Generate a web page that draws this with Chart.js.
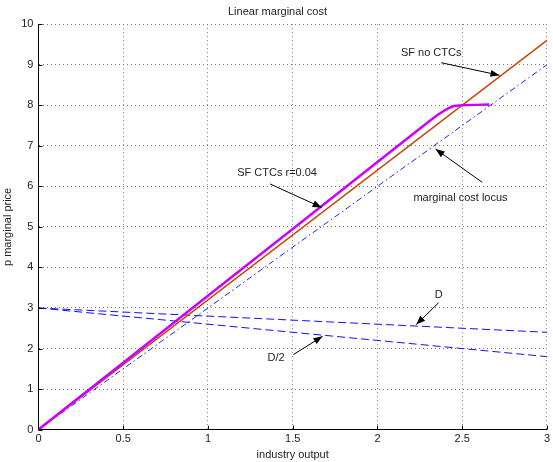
<!DOCTYPE html>
<html>
<head>
<meta charset="utf-8">
<script src="https://cdn.jsdelivr.net/npm/chart.js@4.4.1/dist/chart.umd.min.js"></script>
<style>
html,body{margin:0;padding:0;background:#fff;}
#wrap{width:553px;height:462px;}
</style>
</head>
<body>
<div id="wrap"><canvas id="c" width="553" height="462"></canvas></div>
<script>
// ---- data ----
const lineX = [0, 3];
const sfNoCTCs = [0, 9.6];
const mcLocus = [0, 9];
const demandD = [3, 2.4];
const demandHalf = [3, 1.8];
const sfCTCx = [0, 0.5, 1, 1.5, 2, 2.3, 2.35, 2.39, 2.42, 2.45, 2.5, 2.58, 2.66];
const sfCTCy = [0, 1.65, 3.3, 4.95, 6.6, 7.59, 7.75, 7.86, 7.93, 7.98, 8.0, 8.01, 8.02];
const xTicks = [0, 0.5, 1, 1.5, 2, 2.5, 3];
const xTickLabels = ['0', '0.5', '1', '1.5', '2', '2.5', '3'];
const yTicks = [0, 1, 2, 3, 4, 5, 6, 7, 8, 9, 10];
// annotations: label, text position, arrow start, arrow end (data units)
const noteLabels = ['SF no CTCs', 'marginal cost locus', 'SF CTCs r=0.04', 'D/2', 'D'];
const noteText = [[2.317, 9.29], [2.49, 5.725], [1.408, 6.34], [1.402, 1.757], [2.362, 3.32]];
const noteFrom = [[2.376, 9.05], [2.618, 6.10], [1.366, 6.06], [1.504, 1.85], [2.361, 3.13]];
const noteTo = [[2.72, 8.74], [2.343, 6.92], [1.671, 5.48], [1.676, 2.30], [2.229, 2.59]];

const pts = (xs, ys) => xs.map((x, i) => ({x: x, y: ys[i]}));

const FONT = "'Liberation Sans', Arial, Helvetica, sans-serif";

const notesPlugin = {
  id: 'notes',
  afterDatasetsDraw(chart) {
    const ctx = chart.ctx, xs = chart.scales.x, ys = chart.scales.y;
    const ca = chart.chartArea;
    ctx.save();
    // inward ticks
    ctx.strokeStyle = '#000'; ctx.lineWidth = 1;
    ctx.beginPath();
    xTicks.forEach(v => { const px = Math.round(xs.getPixelForValue(v)) + 0.5; ctx.moveTo(px, ca.bottom); ctx.lineTo(px, ca.bottom - 4); });
    yTicks.forEach(v => { const py = Math.round(ys.getPixelForValue(v)) + 0.5; ctx.moveTo(ca.left, py); ctx.lineTo(ca.left + 4, py); });
    ctx.stroke();
    ctx.font = '11px ' + FONT;
    ctx.fillStyle = '#222';
    ctx.textAlign = 'center';
    ctx.textBaseline = 'middle';
    noteLabels.forEach((t, i) => {
      ctx.fillText(t, xs.getPixelForValue(noteText[i][0]), ys.getPixelForValue(noteText[i][1]));
      const x1 = xs.getPixelForValue(noteFrom[i][0]), y1 = ys.getPixelForValue(noteFrom[i][1]);
      const x2 = xs.getPixelForValue(noteTo[i][0]), y2 = ys.getPixelForValue(noteTo[i][1]);
      ctx.strokeStyle = '#000'; ctx.lineWidth = 1;
      ctx.beginPath(); ctx.moveTo(x1, y1); ctx.lineTo(x2, y2); ctx.stroke();
      const a = Math.atan2(y2 - y1, x2 - x1), L = 9, W = 3.5;
      ctx.fillStyle = '#000';
      ctx.beginPath();
      ctx.moveTo(x2, y2);
      ctx.lineTo(x2 - L * Math.cos(a) + W * Math.sin(a), y2 - L * Math.sin(a) - W * Math.cos(a));
      ctx.lineTo(x2 - L * Math.cos(a) - W * Math.sin(a), y2 - L * Math.sin(a) + W * Math.cos(a));
      ctx.closePath(); ctx.fill();
      ctx.fillStyle = '#222';
    });
    ctx.restore();
  }
};

new Chart(document.getElementById('c'), {
  type: 'scatter',
  data: {
    datasets: [
      {label: 'SF CTCs r=0.04', data: pts(sfCTCx, sfCTCy), showLine: true, borderColor: '#cc00ff', borderWidth: 2.5, pointRadius: 0, fill: false},
      {label: 'SF no CTCs', data: pts(lineX, sfNoCTCs), showLine: true, borderColor: '#c84400', borderWidth: 1.5, pointRadius: 0, fill: false},
      {label: 'marginal cost locus', data: pts(lineX, mcLocus), showLine: true, borderColor: '#2020ff', borderWidth: 1, borderDash: [6, 3, 1.5, 3], pointRadius: 0, fill: false},
      {label: 'D', data: pts(lineX, demandD), showLine: true, borderColor: '#1010ff', borderWidth: 1, borderDash: [8, 4], pointRadius: 0, fill: false},
      {label: 'D/2', data: pts(lineX, demandHalf), showLine: true, borderColor: '#1010ff', borderWidth: 1, borderDash: [8, 4], pointRadius: 0, fill: false}
    ]
  },
  options: {
    responsive: false,
    animation: false,
    devicePixelRatio: 1,
    layout: {padding: {left: 0, right: -2, top: 0, bottom: 0}},
    plugins: {
      legend: {display: false},
      tooltip: {enabled: false},
      title: {display: true, text: 'Linear marginal cost', color: '#222', font: {family: FONT, size: 11, weight: 'normal'}, padding: {top: 5, bottom: 6}}
    },
    scales: {
      x: {
        type: 'linear', min: 0, max: 3,
        afterBuildTicks: s => { s.ticks = xTicks.map(v => ({value: v})); },
        ticks: {color: '#222', font: {family: FONT, size: 11}, padding: 3, maxRotation: 0,
          callback: (v) => { const i = xTicks.indexOf(v); return i >= 0 ? xTickLabels[i] : ''; }},
        grid: {color: '#777', lineWidth: 1, drawTicks: false},
        border: {display: true, color: '#000', width: 1, dash: [1, 3]},
        title: {display: true, text: 'industry output', color: '#222', font: {family: FONT, size: 11}, padding: {top: 0, bottom: 0}}
      },
      y: {
        type: 'linear', min: 0, max: 10,
        afterBuildTicks: s => { s.ticks = yTicks.map(v => ({value: v})); },
        ticks: {color: '#222', font: {family: FONT, size: 11}, padding: 5},
        grid: {color: '#777', lineWidth: 1, drawTicks: false},
        border: {display: true, color: '#000', width: 1, dash: [1, 3]},
        title: {display: true, text: 'p marginal price', color: '#222', font: {family: FONT, size: 11}, padding: {top: 1, bottom: 2}}
      }
    }
  },
  plugins: [notesPlugin]
});
</script>
</body>
</html>
